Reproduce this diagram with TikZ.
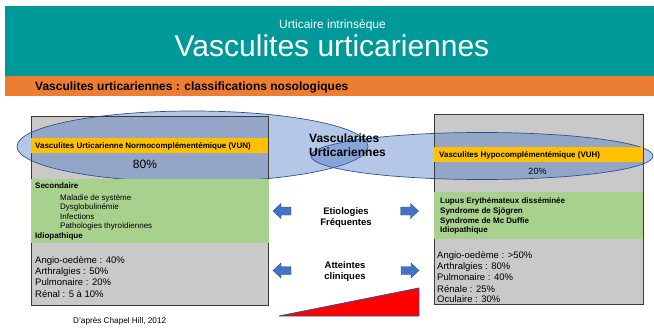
\documentclass[tikz,border=0pt]{standalone}
\usepackage{fontspec}
\setmainfont{Liberation Sans}
\definecolor{tealbg}{HTML}{009999}
\definecolor{orangebg}{HTML}{ED7D31}
\definecolor{boxgray}{HTML}{C9C9C9}
\definecolor{greenbg}{HTML}{A9D18E}
\definecolor{yellowbg}{HTML}{FFC000}
\definecolor{blueA}{HTML}{4472C4}
\definecolor{blueline}{HTML}{2F528F}
\definecolor{boxline}{HTML}{3A3A3A}
\begin{document}
\begin{tikzpicture}[x=1pt,y=-1pt,
  t/.style={inner sep=0pt, anchor=base west, text=black},
  tc/.style={inner sep=0pt, anchor=base, text=black},
  f8/.style={font=\fontsize{8}{9.6}\selectfont},
  f8b/.style={font=\fontsize{8}{9.6}\selectfont\bfseries},
  f95/.style={font=\fontsize{9.5}{11}\selectfont},
  f95b/.style={font=\fontsize{9.5}{11}\selectfont\bfseries},
  ellsty/.style={fill=blueA, fill opacity=0.4, draw=blueline, draw opacity=1, line width=0.7pt},
  boxsty/.style={draw=boxline, line width=0.8pt},
  arrowsty/.style={fill=blueA, draw=blueline, line width=0.4pt},
  arrowL/.pic={\filldraw[arrowsty] (0,0) -- (8,-7.5) -- (8,-4) -- (18,-4) -- (18,4) -- (8,4) -- (8,7.5) -- cycle;},
  arrowR/.pic={\filldraw[arrowsty] (0,0) -- (-8,-7.5) -- (-8,-4) -- (-18,-4) -- (-18,4) -- (-8,4) -- (-8,7.5) -- cycle;}
]
\useasboundingbox (0,0) rectangle (654,329);

% header bands
\fill[tealbg] (5,6) rectangle (654,75.7);
\fill[orangebg] (5,75.7) rectangle (654,95.7);
\node[tc, text=white, font=\fontsize{12}{14}\selectfont] (sub) at (332.5,28.3) {Urticaire intrinsèque};
\node[tc, text=white, font=\fontsize{30}{34}\selectfont] (title) at (332,56.7) {Vasculites urticariennes};
\node[t, font=\fontsize{12}{14}\selectfont\bfseries] (bar) at (35,91) {Vasculites urticariennes : classifications nosologiques};

% gray boxes
\fill[boxgray] (31,116) rectangle (268,305);
\fill[boxgray] (434,114) rectangle (643,304);

% ellipses
\path[ellsty] (192.5,146.5) ellipse [x radius=175.5pt, y radius=35.5pt];
\path[ellsty] (482,156) ellipse [x radius=171pt, y radius=23.5pt];

% borders
\draw[boxsty] (31,116) rectangle (268,305);
\draw[boxsty] (434,114) rectangle (643,304);

% yellow bands
\fill[yellowbg] (31,138) rectangle (268,153);
\fill[yellowbg] (434,147) rectangle (643,162);

% green bands
\fill[greenbg] (30.5,179) rectangle (268.5,243);
\fill[greenbg] (434.4,192) rectangle (642.6,239);

% left box texts
\node[t, f8b] (vun) at (35,148.3) {Vasculites Urticarienne Normocomplémentémique (VUN)};
\node[tc, font=\fontsize{12}{14}\selectfont] (p80) at (145,168.3) {80\%};
\node[t, f8b] (sec) at (35,188.5) {Secondaire};
\node[t, f8] (l1) at (60,200) {Maladie de système};
\node[t, f8] (l2) at (60,209.4) {Dysglobulinémie};
\node[t, f8] (l3) at (60,219) {Infections};
\node[t, f8] (l4) at (60,228.8) {Pathologies thyroïdiennes};
\node[t, f8b] (idl) at (35,238.5) {Idiopathique};
\node[t, f95] (g1) at (35,263.4) {Angio-oedème : 40\%};
\node[t, f95] (g2) at (35,274.4) {Arthralgies : 50\%};
\node[t, f95] (g3) at (35,285.4) {Pulmonaire : 20\%};
\node[t, f95] (g4) at (35,297) {Rénal : 5 à 10\%};

% right box texts
\node[t, f8b] (vuh) at (439,157.5) {Vasculites Hypocomplémentémique (VUH)};
\node[tc, font=\fontsize{9}{11}\selectfont] (p20) at (537.5,174.2) {20\%};
\node[t, f8b] (r1) at (440,203.6) {Lupus Erythémateux disséminée};
\node[t, f8b] (r2) at (440,213.3) {Syndrome de Sjögren};
\node[t, f8b] (r3) at (440,223) {Syndrome de Mc Duffie};
\node[t, f8b] (r4) at (440,232.5) {Idiopathique};
\begin{scope}
\clip (434,114) rectangle (643,303.6);
\node[t, f95] (h1) at (437,258.4) {Angio-oedème : >50\%};
\node[t, f95] (h2) at (437,269.4) {Arthralgies : 80\%};
\node[t, f95] (h3) at (437,280.4) {Pulmonaire : 40\%};
\node[t, f95] (h4) at (437,292) {Rénale : 25\%};
\node[t, f95] (h5) at (437,302.8) {Oculaire : 30\%};
\end{scope}
\draw[boxline, line width=0.8pt] (434,304) -- (643,304);

% middle texts
\node[t, font=\fontsize{12}{14}\selectfont\bfseries] (vas1) at (309,142.3) {Vascularites};
\node[t, font=\fontsize{12}{14}\selectfont\bfseries] (vas2) at (309,156.3) {Urticariennes};
\node[tc, f95b] (et1) at (346,214.4) {Etiologies};
\node[tc, f95b] (et2) at (346,225.7) {Fréquentes};
\node[tc, f95b] (at1) at (345,268.4) {Atteintes};
\node[tc, f95b] (at2) at (345,279.4) {cliniques};

% arrows
\pic at (273,211) {arrowL};
\pic at (418.5,211) {arrowR};
\pic at (273,270.5) {arrowL};
\pic at (419,270.5) {arrowR};

% red triangle
\filldraw[fill=red, draw=blueline, line width=0.8pt] (279,316) -- (419,316) -- (419,288) -- cycle;

% source
\node[t, font=\fontsize{8.2}{10}\selectfont] (src) at (73,323) {D'après Chapel Hill, 2012};
\end{tikzpicture}
\end{document}
